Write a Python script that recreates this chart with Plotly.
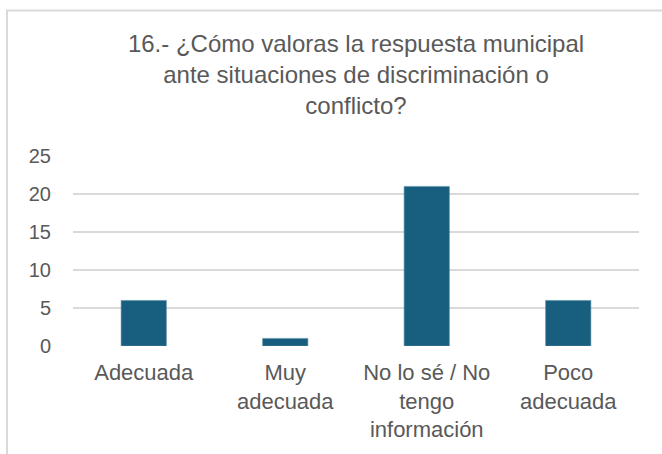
import plotly.graph_objects as go

categories = ["Adecuada", "Muy<br>adecuada", "No lo sé / No<br>tengo<br>información", "Poco<br>adecuada"]
values = [6, 1, 21, 6]
y_ticks = [0, 5, 10, 15, 20, 25]
title_text = "16.- ¿Cómo valoras la respuesta municipal<br>ante situaciones de discriminación o<br>conflicto?"

W, H = 662, 454
L, R, T, B = 73, 23, 156, 107.5
pw, ph = W - L - R, H - T - B

fig = go.Figure(go.Bar(
    x=categories, y=values,
    marker=dict(color="#175e7f", line=dict(color="#5b8fa8", width=0.6)),
    width=0.32,
))

FONT = "Liberation Sans, Arial, sans-serif"
fig.update_layout(
    width=W, height=H,
    margin=dict(l=L, r=R, t=T, b=B),
    paper_bgcolor="white", plot_bgcolor="white",
    font=dict(family=FONT, color="#595959", size=20),
    title=dict(text=title_text, x=0.5, xref="paper", xanchor="center",
               y=1 - 52 / H, yref="container", yanchor="top",
               font=dict(size=24, color="#595959", family=FONT)),
    showlegend=False,
    xaxis=dict(showgrid=False, showline=False, zeroline=False, ticks="",
               ticklabelstandoff=11,
               tickfont=dict(size=22, color="#595959")),
    yaxis=dict(range=[0, 25], tickvals=y_ticks, showgrid=True, gridcolor="#d9d9d9",
               gridwidth=1.5, zeroline=False, showline=False, ticks="",
               ticklabelstandoff=21,
               tickfont=dict(size=20, color="#595959")),
)

# chart border (outer frame like the source)
x0 = (7 - L) / pw
y1 = (H - B - 10) / ph
fig.add_shape(type="rect", xref="paper", yref="paper",
              x0=x0, x1=(W + 20 - L) / pw, y0=-(B + 20) / ph, y1=y1,
              line=dict(color="#d9d9d9", width=2), fillcolor="rgba(0,0,0,0)", layer="above")

fig.write_html("out.html", config={"displayModeBar": False},
               post_script="document.body.style.margin='0';")
